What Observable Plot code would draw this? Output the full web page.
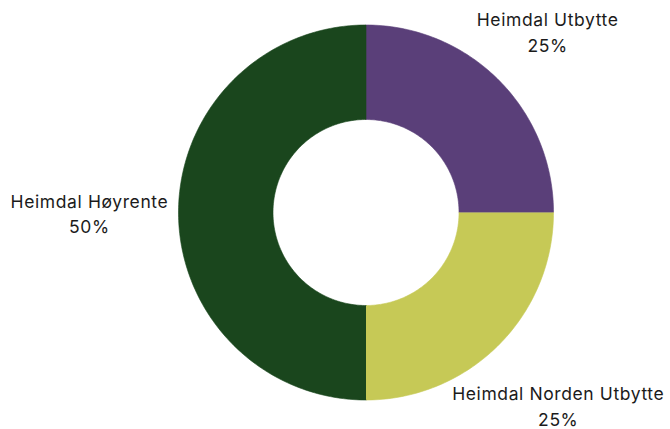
<!DOCTYPE html>
<html><head><meta charset="utf-8">
<script src="https://cdn.jsdelivr.net/npm/d3@7"></script>
<script src="https://cdn.jsdelivr.net/npm/@observablehq/plot@0.6"></script>
<style>body{margin:0;background:#fff}</style>
</head><body><div id="chart"></div>
<script>
const categories = ["Heimdal Utbytte", "Heimdal Norden Utbytte", "Heimdal Høyrente"];
const shares = [25, 25, 50];
const colors = ["#5a3f79", "#c6c956", "#1a461d"];

const rows = categories.map((c, i) => ({category: c, share: shares[i]}));
const arcs = d3.pie().sort(null).value(d => d.share)(rows);
const innerRatio = 0.496;
const ringPts = [];
arcs.forEach(a => {
  const n = Math.max(4, Math.ceil(360 * (a.endAngle - a.startAngle) / (2 * Math.PI)));
  for (let k = 0; k <= n; k++) {
    const t = a.startAngle + (a.endAngle - a.startAngle) * k / n;
    ringPts.push({category: a.data.category, x: Math.sin(t), y: Math.cos(t)});
  }
  for (let k = n; k >= 0; k--) {
    const t = a.startAngle + (a.endAngle - a.startAngle) * k / n;
    ringPts.push({category: a.data.category, x: innerRatio * Math.sin(t), y: innerRatio * Math.cos(t)});
  }
});

const labelR = {"Heimdal Utbytte": 1.37, "Heimdal Norden Utbytte": 1.45, "Heimdal Høyrente": 1.475};
const labels = arcs.map(a => {
  const m = (a.startAngle + a.endAngle) / 2, r = labelR[a.data.category];
  return {x: r * Math.sin(m), y: r * Math.cos(m), text: `${a.data.category}\n${a.data.share}%`};
});

const chart = Plot.plot({
  width: 670, height: 429,
  marginLeft: 178, marginRight: 117, marginTop: 24.5, marginBottom: 29.5,
  x: {domain: [-1, 1], axis: null},
  y: {domain: [-1, 1], axis: null},
  color: {domain: categories, range: colors},
  style: {background: "#fff", letterSpacing: "0.6px"},
  marks: [
    Plot.line(ringPts, {x: "x", y: "y", z: "category", fill: "category", stroke: "category", strokeWidth: 0.6, curve: "linear"}),
    Plot.text(labels, {x: "x", y: "y", text: "text", fontSize: 17.5, fill: "#1b1b1b", lineHeight: 1.46, textAnchor: "middle", fontFamily: "Inter, sans-serif"})
  ]
});
document.getElementById("chart").append(chart);
</script>
</body></html>
